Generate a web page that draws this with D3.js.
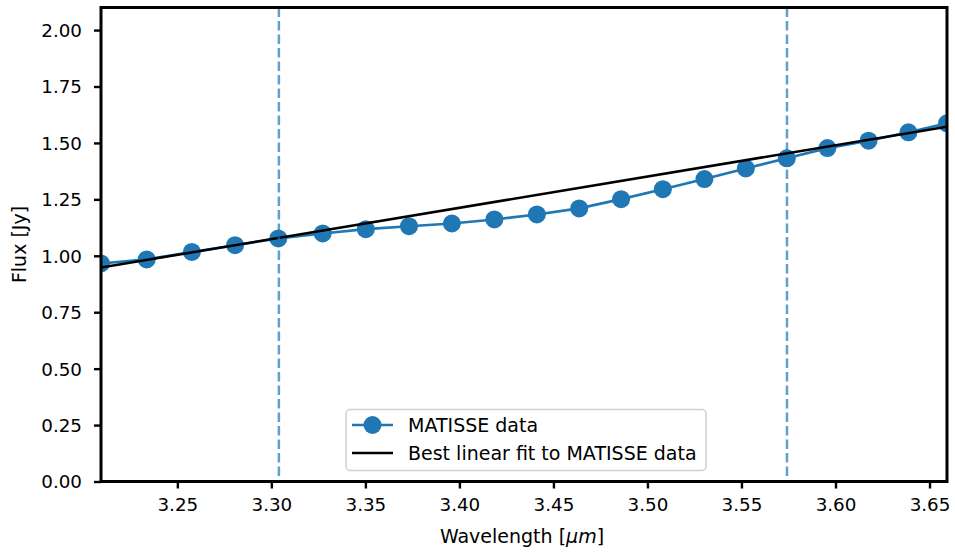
<!DOCTYPE html>
<html><head><meta charset="utf-8">
<script src="https://cdn.jsdelivr.net/npm/d3@7"></script>
<style>
html,body{margin:0;padding:0;background:#fff;}
text{font-family:"DejaVu Sans",sans-serif;fill:#000;}
</style></head>
<body><svg id="c" width="955" height="556"></svg>
<script>
const wavelength = [3.2094,3.2337,3.2577,3.2807,3.3037,3.3273,3.3502,3.3732,3.3960,3.4186,3.4412,3.4637,3.4860,3.5082,3.5303,3.5523,3.5741,3.5957,3.6176,3.6388,3.6593];
const flux = [0.966,0.984,1.017,1.047,1.077,1.099,1.118,1.131,1.143,1.161,1.183,1.210,1.251,1.295,1.340,1.387,1.432,1.477,1.510,1.547,1.587];
const fitX = [3.2094,3.6593];
const fitY = [0.948,1.572];
const vlines = [3.3040,3.5742];
const xTicks = [3.25,3.30,3.35,3.40,3.45,3.50,3.55,3.60,3.65];
const yTicks = [0,0.25,0.5,0.75,1.0,1.25,1.5,1.75,2.0];
const legendLabels = ["MATISSE data","Best linear fit to MATISSE data"];

const L=101,R=947,T=7.5,B=481.5;
const svg=d3.select("#c");
const x=d3.scaleLinear().domain([3.2094,3.6593]).range([L,R]);
const y=d3.scaleLinear().domain([0,2.1]).range([B,T]);
const blue="#1f77b4";

svg.append("defs").append("clipPath").attr("id","clip")
  .append("rect").attr("x",L).attr("y",T).attr("width",R-L).attr("height",B-T);
const g=svg.append("g").attr("clip-path","url(#clip)");

const pts=wavelength.map((w,i)=>[w,flux[i]]);
g.append("path").datum(pts)
  .attr("d",d3.line().x(d=>x(d[0])).y(d=>y(d[1])))
  .attr("fill","none").attr("stroke",blue).attr("stroke-width",2.6);
g.selectAll("circle.m").data(pts).enter().append("circle")
  .attr("cx",d=>x(d[0])).attr("cy",d=>y(d[1])).attr("r",9).attr("fill",blue);
g.append("path").datum(fitX.map((w,i)=>[w,fitY[i]]))
  .attr("d",d3.line().x(d=>x(d[0])).y(d=>y(d[1])))
  .attr("fill","none").attr("stroke","#000").attr("stroke-width",2.6);
g.selectAll("line.v").data(vlines).enter().append("line")
  .attr("x1",d=>x(d)).attr("x2",d=>x(d)).attr("y1",T).attr("y2",B)
  .attr("stroke",blue).attr("stroke-opacity",0.7).attr("stroke-width",2.5)
  .attr("stroke-dasharray","9.5,4");

// axes
const xa=svg.append("g").attr("transform",`translate(0,${B})`)
  .call(d3.axisBottom(x).tickValues(xTicks).tickFormat(d3.format(".2f")).tickSize(7).tickPadding(10).tickSizeOuter(0));
const ya=svg.append("g").attr("transform",`translate(${L},0)`)
  .call(d3.axisLeft(y).tickValues(yTicks).tickFormat(d3.format(".2f")).tickSize(7).tickPadding(12).tickSizeOuter(0));
[xa,ya].forEach(a=>{
  a.select(".domain").remove();
  a.selectAll(".tick line").attr("stroke","#000").attr("stroke-width",2.4);
  a.selectAll(".tick text").attr("font-size",18.3).attr("font-family","DejaVu Sans").attr("fill","#000");
});
ya.selectAll(".tick text").attr("dy","0.35em");

// spines
svg.append("rect").attr("x",L).attr("y",T).attr("width",R-L).attr("height",B-T)
  .attr("fill","none").attr("stroke","#000").attr("stroke-width",3);

// labels
const xl=svg.append("text").attr("x",(L+R)/2-2).attr("y",543).attr("text-anchor","middle").attr("font-size",19);
xl.append("tspan").text("Wavelength [");
xl.append("tspan").attr("font-style","italic").text("μm");
xl.append("tspan").text("]");
svg.append("text").attr("transform",`translate(26,${(T+B)/2}) rotate(-90)`)
  .attr("text-anchor","middle").attr("font-size",19).text("Flux [Jy]");

// legend
const lg=svg.append("g");
lg.append("rect").attr("x",346).attr("y",409.5).attr("width",360).attr("height",61).attr("rx",4)
  .attr("fill","#fff").attr("fill-opacity",0.8).attr("stroke","#d0d0d0").attr("stroke-width",1.5);
lg.append("line").attr("x1",352).attr("x2",393).attr("y1",425).attr("y2",425).attr("stroke",blue).attr("stroke-width",2.6);
lg.append("circle").attr("cx",372.5).attr("cy",425).attr("r",9).attr("fill",blue);
lg.append("line").attr("x1",352).attr("x2",393).attr("y1",453).attr("y2",453).attr("stroke","#000").attr("stroke-width",2.6);
lg.selectAll("text.l").data(legendLabels).enter().append("text")
  .attr("x",408).attr("y",(d,i)=>431.8+i*28).attr("font-size",19).text(d=>d);
</script></body></html>
